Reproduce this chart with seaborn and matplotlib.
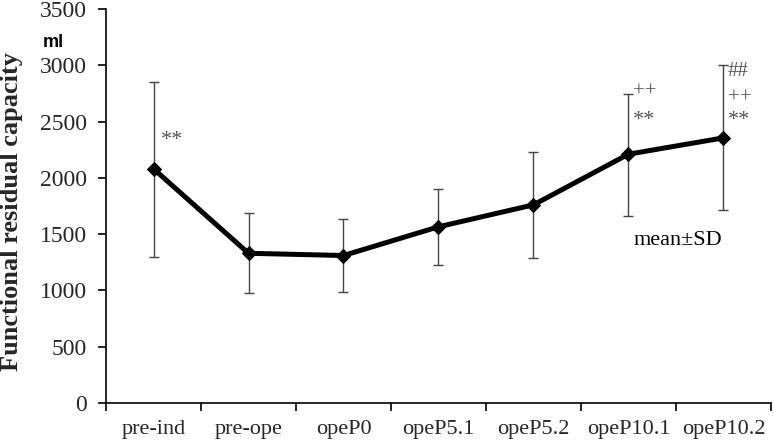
import numpy as np
import pandas as pd
import matplotlib
matplotlib.use("Agg")
import matplotlib.pyplot as plt
import seaborn as sns

categories = ["pre-ind", "pre-ope", "opeP0", "opeP5.1", "opeP5.2", "opeP10.1", "opeP10.2"]
means = [2080, 1330, 1310, 1565, 1760, 2210, 2355]
upper = [2850, 1690, 1630, 1905, 2225, 2745, 3000]
lower = [1300, 975, 985, 1225, 1285, 1665, 1715]
yticks = [0, 500, 1000, 1500, 2000, 2500, 3000, 3500]

sns.set_theme(style="white")
plt.rcParams['font.family'] = ['Liberation Serif', 'DejaVu Serif']

df = pd.DataFrame({"x": np.arange(len(categories)), "y": means})
fig = plt.figure(figsize=(7.74, 4.47), dpi=100)
ax = fig.add_axes([0.137, 0.0984, 0.859, 0.8816])

yerr = [np.array(means) - np.array(lower), np.array(upper) - np.array(means)]
ax.errorbar(df["x"], df["y"], yerr=yerr, fmt="none", ecolor="#444444",
            elinewidth=1.0, capsize=3.5, capthick=1.0, zorder=2)
sns.lineplot(data=df, x="x", y="y", ax=ax, color="black", linewidth=3.6,
             marker="D", markersize=7, markeredgecolor="black", zorder=3)

ax.set_xlim(-0.5, len(categories) - 0.5)
ax.set_ylim(0, 3500)
ax.set_yticks(yticks)
ax.set_yticklabels([str(v) for v in yticks], fontsize=17)
ax.set_xticks(np.arange(-0.5, len(categories), 1.0))
ax.set_xticklabels([])
ax.set_xticks(np.arange(len(categories)), minor=True)
ax.set_xticklabels(categories, minor=True, fontsize=16)
ax.tick_params(axis="x", which="major", direction="out", length=6, width=1.2, color="black", bottom=True)
ax.tick_params(axis="x", which="minor", length=0, pad=12)
ax.tick_params(axis="y", direction="out", length=6, width=1.2, color="black", left=True, pad=8)

for s in ["top", "right"]:
    ax.spines[s].set_visible(False)
for s in ["left", "bottom"]:
    ax.spines[s].set_color("black")
    ax.spines[s].set_linewidth(1.2)

ax.set_xlabel("")
ax.set_ylabel("Functional residual capacity", fontsize=19, fontweight="bold")
ax.yaxis.set_label_coords(-0.125, 0.485)

ann = "#555555"
ax.text(0.08, 2330, "**", fontsize=16, color=ann, va="center")
ax.text(5.05, 2763, "++", fontsize=15, color=ann, va="center")
ax.text(5.05, 2510, "**", fontsize=16, color=ann, va="center")
ax.text(6.04, 2940, "##", fontsize=15, color=ann, va="center")
ax.text(6.05, 2709, "++", fontsize=15, color=ann, va="center")
ax.text(6.05, 2510, "**", fontsize=16, color=ann, va="center")
ax.text(5.05, 1439, "mean±SD", fontsize=16, color="black", va="center")
ax.text(-1.17, 3198, "ml", fontsize=13, color="black", va="center", fontweight="bold",
        family=["Liberation Sans", "DejaVu Sans"])

fig.savefig("out.png", dpi=100)
